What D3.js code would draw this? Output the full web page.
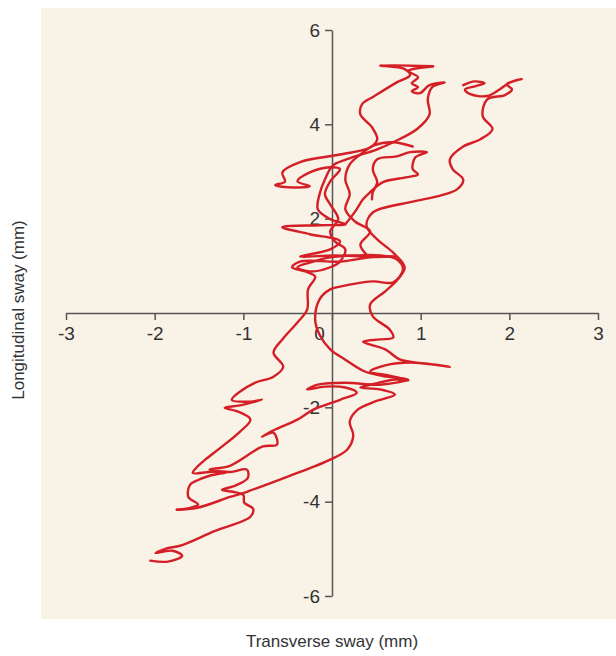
<!DOCTYPE html>
<html>
<head>
<meta charset="utf-8">
<script src="https://cdn.jsdelivr.net/npm/d3@7"></script>
<style>
  body { margin: 0; background: #fff; }
  svg text { font-family: "Liberation Sans Narrow", "Liberation Sans", Arial, sans-serif; fill: #333; }
</style>
</head>
<body>
<div id="container"></div>
<script>
/* DATA - sway trace in mm, [transverse, longitudinal] */
const xTicks = [-3, -2, -1, 0, 1, 2, 3];
const yTicks = [-6, -4, -2, 2, 4, 6];

const pass1 = [[-2.05,-5.25],[-1.85,-5.27],[-1.69,-5.15],[-1.80,-5.04],[-1.99,-5.09],[-1.88,-5.00],[-1.69,-4.92],
  [-1.32,-4.62],[-0.92,-4.32],[-0.89,-4.15],[-0.99,-4.02],[-1.00,-3.86],[-1.12,-3.79],[-1.24,-3.75],[-1.09,-3.66],
  [-0.95,-3.50],[-0.96,-3.32],[-1.15,-3.37],[-1.38,-3.32],[-1.15,-3.24],[-0.78,-2.83],[-0.62,-2.79],[-0.66,-2.54],
  [-0.79,-2.62],[-0.64,-2.47],[-0.39,-2.26],[-0.21,-2.05],[0.09,-1.84],[0.28,-1.69],[0.15,-1.58],[-0.08,-1.56],
  [-0.28,-1.62],[-0.16,-1.52],[0.15,-1.48],[0.54,-1.52],[0.86,-1.41],[0.62,-1.35],[0.37,-1.24],[0.15,-0.99],
  [-0.02,-0.77],[-0.14,-0.46],[-0.19,-0.14],[-0.14,0.29],[-0.02,0.50],[0.09,0.56],[0.46,0.67],[0.69,0.65],
  [0.80,0.92],[0.73,1.14],[0.54,1.22],[0.26,1.22],[-0.02,1.18],[-0.25,1.07],[-0.39,0.97],[-0.25,0.88],
  [-0.02,0.97],[0.09,1.09],[0.15,1.35],[0.03,1.52],[-0.02,1.73],[0.07,1.99],[-0.02,2.30],[-0.08,2.52],
  [-0.02,2.79],[0.09,3.05],[-0.02,3.09],[-0.25,2.98],[-0.39,2.79],[-0.25,2.69],[-0.44,2.66],[-0.64,2.71],
  [-0.53,2.79],[-0.56,2.98],[-0.36,3.20],[0.09,3.36],[0.43,3.51],[0.51,3.68],[0.45,3.94],[0.32,4.21],
  [0.34,4.43],[0.48,4.60],[0.73,4.89],[0.88,5.04],[0.82,5.17],[0.54,5.25],[1.14,5.23]];

const pass2 = [[1.14,5.23],[0.86,5.13],[0.97,5.00],[0.90,4.87],[0.97,4.79],[0.90,4.70],[0.99,4.66],[1.10,4.83],
  [1.27,4.89],[1.13,4.79],[1.08,4.53],[1.10,4.21],[0.96,3.90],[0.69,3.62],[0.51,3.47],[0.17,3.26],[0.01,3.13],
  [-0.08,2.83],[-0.14,2.52],[-0.16,2.20],[-0.02,1.99],[0.15,1.88],[-0.14,1.86],[-0.56,1.82],[-0.25,1.67],
  [0.09,1.52],[-0.02,1.35],[-0.36,1.20],[0.03,1.22],[0.41,1.20],[0.73,1.20],[0.43,1.18],[0.09,1.09],
  [-0.36,1.09],[-0.45,0.97],[-0.30,0.88],[-0.19,0.77],[-0.27,0.50],[-0.28,0.07],[-0.39,-0.20],[-0.56,-0.56],
  [-0.66,-0.84],[-0.55,-1.14],[-0.66,-1.35],[-0.87,-1.48],[-1.04,-1.67],[-1.13,-1.84],[-0.92,-1.88],
  [-0.79,-1.84],[-1.04,-1.96],[-1.21,-2.01],[-1.06,-2.09],[-0.92,-2.26],[-1.04,-2.52],[-1.26,-2.86],
  [-1.43,-3.11],[-1.52,-3.26],[-1.57,-3.39],[-1.38,-3.37],[-1.18,-3.37],[-1.38,-3.45],[-1.51,-3.54],
  [-1.60,-3.64],[-1.62,-3.90],[-1.51,-4.06],[-1.60,-4.13],[-1.75,-4.17]];

const pass3 = [[-1.75,-4.17],[-1.52,-4.13],[-1.15,-3.90],[-0.96,-3.79],[-0.47,-3.45],[-0.02,-3.11],[0.17,-2.90],
  [0.24,-2.60],[0.20,-2.30],[0.29,-2.05],[0.48,-1.88],[0.71,-1.73],[0.54,-1.62],[0.32,-1.58],[0.48,-1.50],
  [0.71,-1.41],[0.86,-1.43],[0.65,-1.33],[0.43,-1.24],[0.60,-1.11],[0.88,-1.05],[1.33,-1.14],[1.05,-1.07],
  [0.77,-0.99],[0.60,-0.77],[0.35,-0.61],[0.54,-0.56],[0.69,-0.52],[0.65,-0.35],[0.46,-0.07],[0.43,0.18],
  [0.60,0.46],[0.74,0.71],[0.82,0.97],[0.69,1.28],[0.51,1.56],[0.39,1.84],[0.46,2.13],[0.88,2.35],
  [1.22,2.49],[1.41,2.62],[1.48,2.83],[1.36,3.05],[1.33,3.26],[1.48,3.53],[1.67,3.68],[1.81,3.90],
  [1.70,4.17],[1.75,4.53],[1.95,4.62],[2.03,4.74],[1.97,4.85],[2.14,4.96],[2.01,4.89],[1.89,4.74],
  [1.75,4.60],[1.56,4.64],[1.50,4.74],[1.62,4.81],[1.72,4.87],[1.61,4.91],[1.48,4.83]];

const pass4 = [[0.91,3.53],[0.69,3.62],[0.48,3.56],[0.32,3.36],[0.20,3.15],[0.15,2.83],[0.20,2.52],
  [0.15,2.20],[0.26,1.94],[0.43,1.73],[0.32,1.45],[0.41,1.20]];

const pass5 = [[0.45,2.41],[0.46,2.56],[0.51,2.77],[0.46,3.05],[0.51,3.26],[0.73,3.32],[0.88,3.41],
  [1.07,3.41],[0.94,3.30],[0.91,3.05],[0.97,2.94],[0.85,2.88],[0.57,2.77],[0.43,2.56],[0.35,2.41],
  [0.26,2.15],[0.15,1.88]];

const passes = [pass1, pass2, pass3, pass4, pass5];

/* CONSTANTS */
const width = 616, height = 656;

const svg = d3.select("#container").append("svg")
  .attr("width", width)
  .attr("height", height);

// beige panel
svg.append("rect")
  .attr("x", 41).attr("y", 8)
  .attr("width", 575).attr("height", 611)
  .attr("fill", "#f9f2e7");

/* SCALES */
const xScale = d3.scaleLinear().domain([-3, 3]).range([66, 598]);
const yScale = d3.scaleLinear().domain([-6, 6]).range([596, 30]);

/* AXES */
const xAxis = svg.append("g")
  .attr("transform", `translate(0,${yScale(0)})`)
  .call(d3.axisBottom(xScale).tickValues(xTicks).tickFormat(d => String(d))
    .tickSize(7).tickSizeOuter(0).tickPadding(7));
xAxis.selectAll("text").attr("font-size", 19)
  .attr("dx", d => d === 0 ? -13 : 0);

const yAxis = svg.append("g")
  .attr("transform", `translate(${xScale(0)},0)`)
  .call(d3.axisLeft(yScale).tickValues(yTicks).tickFormat(d => String(d))
    .tickSize(7).tickSizeOuter(0).tickPadding(5));
yAxis.selectAll("text").attr("font-size", 19);

svg.selectAll(".domain, .tick line")
  .attr("stroke", "#555")
  .attr("stroke-width", 1.5);
svg.selectAll(".tick text").attr("fill", "#333");

/* TRACE */
const line = d3.line()
  .x(d => xScale(d[0]))
  .y(d => yScale(d[1]))
  .curve(d3.curveCatmullRom.alpha(0.5));

svg.selectAll("path.trace")
  .data(passes)
  .join("path")
  .attr("class", "trace")
  .attr("d", line)
  .attr("fill", "none")
  .attr("stroke", "#d51f26")
  .attr("stroke-width", 2.4)
  .attr("stroke-linejoin", "round")
  .attr("stroke-linecap", "round");

/* TITLES */
svg.append("text")
  .attr("x", xScale(0)).attr("y", 647)
  .attr("text-anchor", "middle")
  .attr("font-size", 17)
  .text("Transverse sway (mm)");

svg.append("text")
  .attr("transform", `translate(24,310) rotate(-90)`)
  .attr("text-anchor", "middle")
  .attr("font-size", 17)
  .text("Longitudinal sway (mm)");
</script>
</body>
</html>
